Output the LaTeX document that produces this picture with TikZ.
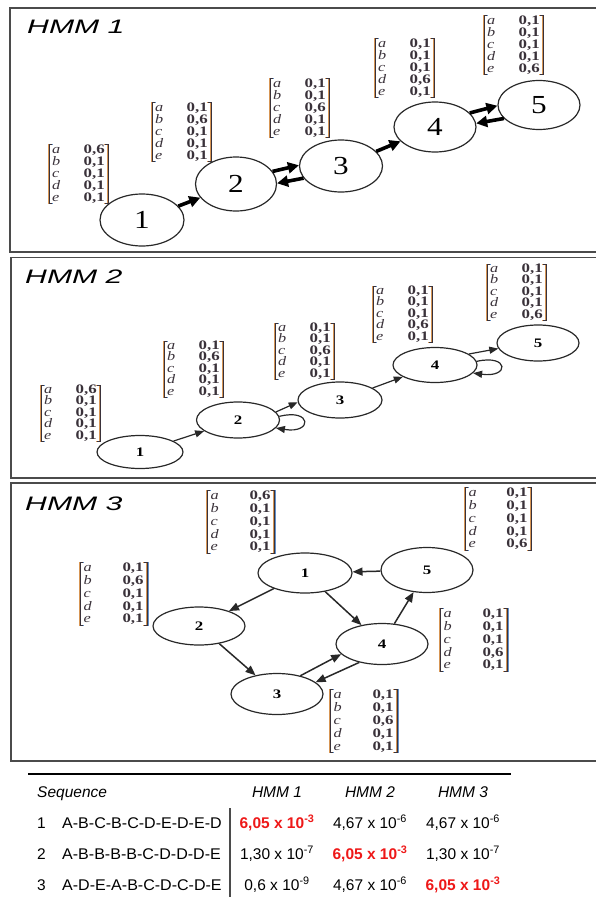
\documentclass[tikz,border=0pt]{standalone}
\usepackage{fontspec}
\usepackage{graphicx}
\setmainfont{Liberation Serif}
\setsansfont{Liberation Sans}
\usetikzlibrary{arrows.meta,shapes.geometric}

\definecolor{framegray}{RGB}{75,75,75}
\definecolor{nodegray}{RGB}{40,40,40}
\definecolor{mattext}{RGB}{58,50,58}
\definecolor{fringeorange}{RGB}{215,150,85}
\definecolor{fringeblue}{RGB}{95,145,205}
\definecolor{hotred}{RGB}{238,24,24}

\tikzset{
  panel/.style={draw=framegray, line width=1.6pt},
  ttl/.style={anchor=base west, inner sep=0pt, font=\sffamily\itshape\fontsize{19.5}{20}\selectfont},
  bignode/.style={ellipse, draw=nodegray, line width=1.2pt, inner sep=0pt,
    font=\fontsize{26}{26}\selectfont},
  smallnode/.style={ellipse, draw=nodegray, line width=1.2pt, inner sep=0pt,
    font=\bfseries\fontsize{13}{13}\selectfont},
  fatarrow/.style={-{Triangle[length=11pt,width=11pt]}, line width=3.6pt, draw=black},
  thinarrow/.style={-{Triangle[length=9pt,width=7pt]}, line width=1.2pt, draw=nodegray},
  midarrow/.style={-{Triangle[length=10pt,width=8pt]}, line width=1.5pt, draw=nodegray},
  brk/.style={line width=1pt},
  mlet/.style={anchor=base west, inner sep=0pt, text=mattext,
    font=\itshape\fontsize{13}{13}\selectfont},
  mval/.style={anchor=base east, inner sep=0pt, text=mattext,
    font=\bfseries\fontsize{13}{13}\selectfont},
  tabtxt/.style={anchor=base, inner sep=0pt, font=\sffamily\fontsize{15.5}{16}\selectfont},
  tabred/.style={anchor=base, inner sep=0pt, text=hotred,
    font=\sffamily\bfseries\fontsize{15.5}{16}\selectfont},
}

% emission matrix: #1 name prefix, #2 scope options (position, size), #3-#7 values for a..e
\newcommand{\emat}[7]{%
  \begin{scope}[#2]
    \foreach \dx/\cc in {-0.7/fringeorange,0.7/fringeblue,0/mattext}{%
      \draw[brk, draw=\cc, xshift=\dx pt] (3,0) -- (0,0) -- (0,59) -- (3,59)
        (56,0) -- (59,0) -- (59,59) -- (56,59);}
    \node[mlet] (#1a) at (3,9)  {\scalebox{1.25}[1]{a}};
    \node[mlet] (#1b) at (3,21) {\scalebox{1.25}[1]{b}};
    \node[mlet] (#1c) at (3,33) {\scalebox{1.25}[1]{c}};
    \node[mlet] (#1d) at (3,45) {\scalebox{1.25}[1]{d}};
    \node[mlet] (#1e) at (3,57) {\scalebox{1.25}[1]{e}};
    \node[mval] (#1va) at (56,9)  {\scalebox{1.3}[1]{#3}};
    \node[mval] (#1vb) at (56,21) {\scalebox{1.3}[1]{#4}};
    \node[mval] (#1vc) at (56,33) {\scalebox{1.3}[1]{#5}};
    \node[mval] (#1vd) at (56,45) {\scalebox{1.3}[1]{#6}};
    \node[mval] (#1ve) at (56,57) {\scalebox{1.3}[1]{#7}};
  \end{scope}}

\begin{document}
\begin{tikzpicture}[x=1pt, y=-1pt]
\useasboundingbox (0,0) rectangle (596,897);
\clip (0,0) rectangle (596,897);

% ---------------- panel frames ----------------
\draw[panel] (10,8) rectangle (600,252);
\draw[panel] (11,257.5) rectangle (600,478);
\draw[panel] (11,483) rectangle (600,761);

% ---------------- HMM 1: left-right chain with back transitions ----------------
\node[ttl] (t1) at (27,33) {\scalebox{1.55}[1]{HMM 1}};
\node[bignode, minimum width=84pt, minimum height=52pt] (a1) at (142,220) {\scalebox{1.2}[1]{1}};
\node[bignode, minimum width=81pt, minimum height=54pt] (a2) at (236,184) {\scalebox{1.2}[1]{2}};
\node[bignode, minimum width=83pt, minimum height=52pt] (a3) at (341,166) {\scalebox{1.2}[1]{3}};
\node[bignode, minimum width=82pt, minimum height=50pt] (a4) at (435,127) {\scalebox{1.2}[1]{4}};
\node[bignode, minimum width=82pt, minimum height=49pt] (a5) at (539,105) {\scalebox{1.2}[1]{5}};
\draw[fatarrow] (a1) -- (a2);
\draw[fatarrow] (a2.19) -- (a3.179);
\draw[fatarrow] (a3.198) -- (a2.1);
\draw[fatarrow] (a3) -- (a4);
\draw[fatarrow] (a4.22) -- (a5.181);
\draw[fatarrow] (a5.201) -- (a4.5);
\emat{am1}{shift={(49,144)}}{0,6}{0,1}{0,1}{0,1}{0,1}
\emat{am2}{shift={(152,102)}}{0,1}{0,6}{0,1}{0,1}{0,1}
\emat{am3}{shift={(270,78)}}{0,1}{0,1}{0,6}{0,1}{0,1}
\emat{am4}{shift={(375,38)}}{0,1}{0,1}{0,1}{0,6}{0,1}
\emat{am5}{shift={(484,15)}}{0,1}{0,1}{0,1}{0,1}{0,6}

% ---------------- HMM 2: chain with self loops ----------------
\node[ttl] (t2) at (25,283) {\scalebox{1.55}[1]{HMM 2}};
\node[smallnode, minimum width=86pt, minimum height=33pt] (b1) at (140,452) {\scalebox{1.3}[1]{1}};
\node[smallnode, minimum width=83pt, minimum height=36pt] (b2) at (238,420) {\scalebox{1.3}[1]{2}};
\node[smallnode, minimum width=84pt, minimum height=36pt] (b3) at (340,400) {\scalebox{1.3}[1]{3}};
\node[smallnode, minimum width=84pt, minimum height=35pt] (b4) at (435,365) {\scalebox{1.3}[1]{4}};
\node[smallnode, minimum width=82pt, minimum height=36pt] (b5) at (538,343) {\scalebox{1.3}[1]{5}};
\draw[thinarrow] (b1) -- (b2);
\draw[thinarrow] (b2.12) -- (b3.183);
\draw[thinarrow] (b2.5) .. controls (312,408) and (313,434) .. (b2.-12);
\draw[thinarrow] (b3) -- (b4);
\draw[thinarrow] (b4.18) -- (b5.188);
\draw[thinarrow] (b4.5) .. controls (509,354) and (510,378) .. (b4.-12);
\emat{bm1}{shift={(41,385)},yscale=0.95}{0,6}{0,1}{0,1}{0,1}{0,1}
\emat{bm2}{shift={(164,341)},yscale=0.95}{0,1}{0,6}{0,1}{0,1}{0,1}
\emat{bm3}{shift={(275,323)},yscale=0.95}{0,1}{0,1}{0,6}{0,1}{0,1}
\emat{bm4}{shift={(373,286)},yscale=0.95}{0,1}{0,1}{0,1}{0,6}{0,1}
\emat{bm5}{shift={(487,264)},yscale=0.95}{0,1}{0,1}{0,1}{0,1}{0,6}

% ---------------- HMM 3: ring with a shortcut ----------------
\node[ttl] (t3) at (25,510) {\scalebox{1.55}[1]{HMM 3}};
\node[smallnode, minimum width=94pt, minimum height=40pt] (c1) at (305,573) {\scalebox{1.3}[1]{1}};
\node[smallnode, minimum width=92pt, minimum height=38pt] (c2) at (199,626) {\scalebox{1.3}[1]{2}};
\node[smallnode, minimum width=92pt, minimum height=41pt] (c3) at (277,694) {\scalebox{1.3}[1]{3}};
\node[smallnode, minimum width=92pt, minimum height=41pt] (c4) at (382,644) {\scalebox{1.3}[1]{4}};
\node[smallnode, minimum width=92pt, minimum height=45pt] (c5) at (427,570) {\scalebox{1.3}[1]{5}};
\draw[midarrow] (c1) -- (c2);
\draw[midarrow] (c2) -- (c3);
\draw[midarrow] (c1) -- (c4);
\draw[midarrow] (c4) -- (c5);
\draw[midarrow] (c5) -- (c1);
\draw[midarrow] (c3.38) -- (c4.194);
\draw[midarrow] (c4.219) -- (c3.17);
\emat{cm1}{shift={(207,490)},xscale=1.14,yscale=1.07}{0,6}{0,1}{0,1}{0,1}{0,1}
\emat{cm2}{shift={(80,562)},xscale=1.14,yscale=1.07}{0,1}{0,6}{0,1}{0,1}{0,1}
\emat{cm5}{shift={(465,487)},xscale=1.12,yscale=1.07}{0,1}{0,1}{0,1}{0,1}{0,6}
\emat{cm4}{shift={(440,608)},xscale=1.14,yscale=1.07}{0,1}{0,1}{0,1}{0,6}{0,1}
\emat{cm3}{shift={(330,689)},xscale=1.14,yscale=1.07}{0,1}{0,1}{0,6}{0,1}{0,1}

% ---------------- likelihood table ----------------
\draw[line width=2pt, draw=black] (28,774) -- (511,774);
\draw[line width=1.4pt, draw=framegray] (230,808) -- (230,899);
\node[tabtxt, anchor=base west] (sh) at (37,797) {\itshape Sequence};
\node[tabtxt] (h1) at (277,797) {\itshape HMM 1};
\node[tabtxt] (h2) at (370,797) {\itshape HMM 2};
\node[tabtxt] (h3) at (463,797) {\itshape HMM 3};

\node[tabtxt, anchor=base west] (r1n) at (37,828) {1};
\node[tabtxt, anchor=base west] (r1s) at (62,828) {\scalebox{1.035}[1]{A-B-C-B-C-D-E-D-E-D}};
\node[tabred] (r1a) at (277,828) {6,05 x 10\textsuperscript{-3}};
\node[tabtxt] (r1b) at (370,828) {4,67 x 10\textsuperscript{-6}};
\node[tabtxt] (r1c) at (463,828) {4,67 x 10\textsuperscript{-6}};

\node[tabtxt, anchor=base west] (r2n) at (37,859) {2};
\node[tabtxt, anchor=base west] (r2s) at (62,859) {\scalebox{1.035}[1]{A-B-B-B-B-C-D-D-D-E}};
\node[tabtxt] (r2a) at (277,859) {1,30 x 10\textsuperscript{-7}};
\node[tabred] (r2b) at (370,859) {6,05 x 10\textsuperscript{-3}};
\node[tabtxt] (r2c) at (463,859) {1,30 x 10\textsuperscript{-7}};

\node[tabtxt, anchor=base west] (r3n) at (37,890) {3};
\node[tabtxt, anchor=base west] (r3s) at (62,890) {\scalebox{1.035}[1]{A-D-E-A-B-C-D-C-D-E}};
\node[tabtxt] (r3a) at (277,890) {0,6 x 10\textsuperscript{-9}};
\node[tabtxt] (r3b) at (370,890) {4,67 x 10\textsuperscript{-6}};
\node[tabred] (r3c) at (463,890) {6,05 x 10\textsuperscript{-3}};
\end{tikzpicture}
\end{document}
